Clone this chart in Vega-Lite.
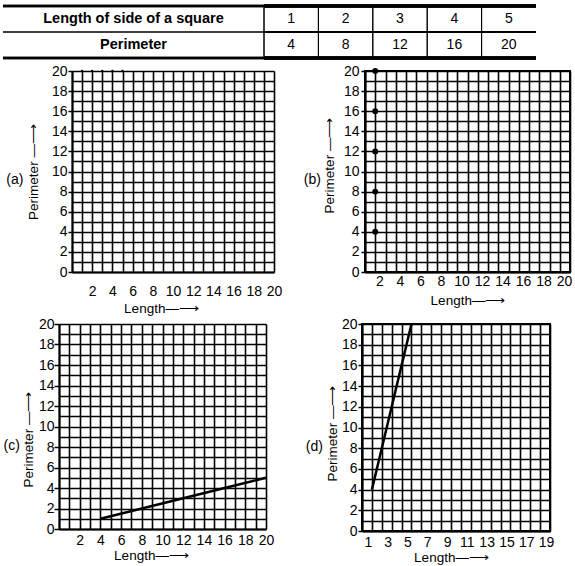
{
  "$schema": "https://vega.github.io/schema/vega-lite/v6.json",
  "padding": {"left": 1, "top": 4, "right": 0, "bottom": 0},
  "background": "white",
  "config": {
    "font": "Liberation Sans",
    "view": {"stroke": "black", "strokeWidth": 2},
    "axis": {
      "labelFont": "Liberation Sans", "labelFontSize": 14, "labelColor": "black",
      "titleFont": "Liberation Sans", "titleFontSize": 13.5, "titleFontWeight": "normal", "titleColor": "black",
      "gridColor": "black", "gridOpacity": 1, "gridWidth": 1.6,
      "domainColor": "black", "domainWidth": 2, "tickColor": "black", "tickWidth": 1.5,
      "labelFlush": false, "labelOverlap": false
    },
    "title": {"font": "Liberation Sans", "fontSize": 14, "fontWeight": "normal", "color": "black", "orient": "left", "angle": 0, "align": "right", "baseline": "middle", "anchor": "middle"}
  },
  "datasets": {
    "squares": [
      {"side": 1, "perimeter": 4}, {"side": 2, "perimeter": 8}, {"side": 3, "perimeter": 12},
      {"side": 4, "perimeter": 16}, {"side": 5, "perimeter": 20}
    ],
    "rowlabels": [
      {"row": "side", "label": "Length of side of a square"},
      {"row": "perimeter", "label": "Perimeter"}
    ],
    "graph_a": [
      {"Length": 1, "Perimeter": 20}, {"Length": 2, "Perimeter": 20}, {"Length": 3, "Perimeter": 20},
      {"Length": 4, "Perimeter": 20}, {"Length": 5, "Perimeter": 20}
    ],
    "graph_b": [
      {"Length": 1, "Perimeter": 4}, {"Length": 1, "Perimeter": 8}, {"Length": 1, "Perimeter": 12},
      {"Length": 1, "Perimeter": 16}, {"Length": 1, "Perimeter": 20}
    ],
    "graph_c": [
      {"Length": 4, "Perimeter": 1}, {"Length": 8, "Perimeter": 2}, {"Length": 12, "Perimeter": 3},
      {"Length": 16, "Perimeter": 4}, {"Length": 20, "Perimeter": 5}
    ],
    "graph_d": [
      {"Length": 1, "Perimeter": 4}, {"Length": 2, "Perimeter": 8}, {"Length": 3, "Perimeter": 12},
      {"Length": 4, "Perimeter": 16}, {"Length": 5, "Perimeter": 20}
    ]
  },
  "columns": 1,
  "spacing": 3,
  "concat": [
    {
      "bounds": "flush",
      "spacing": 0,
      "hconcat": [
        {
          "width": 261, "height": 52,
          "view": {"stroke": null},
          "data": {"name": "rowlabels"},
          "layer": [
            {
              "mark": {"type": "text", "fontWeight": "bold", "fontSize": 14.5, "font": "Liberation Sans", "color": "black"},
              "encoding": {
                "y": {"field": "row", "type": "nominal", "scale": {"type": "band", "domain": ["side", "perimeter"], "paddingInner": 0, "paddingOuter": 0}, "axis": null},
                "text": {"field": "label"}
              }
            },
            {
              "mark": {"type": "rule", "color": "black", "strokeWidth": 2.5},
              "encoding": {"y": {"datum": "side", "type": "nominal", "bandPosition": 0}}
            },
            {
              "mark": {"type": "rule", "color": "black", "strokeWidth": 1},
              "encoding": {"y": {"datum": "perimeter", "type": "nominal", "bandPosition": 0}}
            },
            {
              "mark": {"type": "rule", "color": "black", "strokeWidth": 2.5},
              "encoding": {"y": {"datum": "perimeter", "type": "nominal", "bandPosition": 1}}
            }
          ]
        },
        {
          "width": 272, "height": 52,
          "view": {"stroke": null},
          "data": {"name": "squares"},
          "transform": [{"fold": ["side", "perimeter"], "as": ["row", "val"]}],
          "layer": [
            {
              "mark": {"type": "text", "fontSize": 14, "font": "Liberation Sans", "color": "black"},
              "encoding": {
                "x": {"field": "side", "type": "ordinal", "scale": {"type": "band", "paddingInner": 0, "paddingOuter": 0}, "axis": null},
                "y": {"field": "row", "type": "nominal", "scale": {"type": "band", "domain": ["side", "perimeter"], "paddingInner": 0, "paddingOuter": 0}, "axis": null},
                "text": {"field": "val", "type": "quantitative"}
              }
            },
            {
              "mark": {"type": "rule", "color": "black", "strokeWidth": 1},
              "encoding": {"x": {"field": "side", "type": "ordinal", "bandPosition": 0}}
            },
            {
              "mark": {"type": "rule", "color": "black", "strokeWidth": 2.5},
              "encoding": {"y": {"datum": "side", "type": "nominal", "bandPosition": 0}}
            },
            {
              "mark": {"type": "rule", "color": "black", "strokeWidth": 1},
              "encoding": {"y": {"datum": "perimeter", "type": "nominal", "bandPosition": 0}}
            },
            {
              "mark": {"type": "rule", "color": "black", "strokeWidth": 2.5},
              "encoding": {"y": {"datum": "perimeter", "type": "nominal", "bandPosition": 1}}
            }
          ]
        }
      ]
    },
    {
      "columns": 1,
      "spacing": 1,
      "concat": [
        {
          "bounds": "flush",
          "spacing": 91,
          "hconcat": [
            {
              "width": 271, "height": 201,
              "view": {"stroke": null},
              "title": {"text": "(a)", "offset": -29, "dy": 1},
              "data": {"name": "graph_a"},
              "mark": {"type": "point", "filled": true, "color": "black", "size": 6, "opacity": 1},
              "encoding": {
                "x": {"field": "Length", "type": "quantitative", "scale": {"domain": [0, 20], "range": [69, 271], "nice": false, "zero": false},
                  "axis": {"title": "Length—⟶", "values": [0,1,2,3,4,5,6,7,8,9,10,11,12,13,14,15,16,17,18,19,20],
                    "labelExpr": "datum.value % 2 === 0 && datum.value > 0 ? datum.label : ''",
                    "ticks": false, "tickSize": 0, "labelPadding": 12, "titlePadding": 3, "titleX": 158, "grid": true}},
                "y": {"field": "Perimeter", "type": "quantitative", "scale": {"domain": [0, 20], "nice": false, "zero": false},
                  "axis": {"title": "Perimeter —⟶", "offset": -69, "values": [0,1,2,3,4,5,6,7,8,9,10,11,12,13,14,15,16,17,18,19,20],
                    "labelExpr": "datum.value % 2 === 0 ? datum.label : ''",
                    "tickSize": 4, "tickColor": {"condition": {"test": "datum.value % 2 === 0", "value": "black"}, "value": "transparent"},
                    "labelPadding": 1, "titlePadding": 11, "grid": true}}
              }
            },
            {
              "width": 205, "height": 201,
              "title": {"text": "(b)", "offset": -7, "dy": 1},
              "data": {"name": "graph_b"},
              "mark": {"type": "point", "filled": true, "color": "black", "size": 35, "opacity": 1},
              "encoding": {
                "x": {"field": "Length", "type": "quantitative", "scale": {"domain": [0, 20], "nice": false, "zero": false},
                  "axis": {"title": "Length—⟶", "values": [0,1,2,3,4,5,6,7,8,9,10,11,12,13,14,15,16,17,18,19,20],
                    "labelExpr": "datum.value % 2 === 0 && datum.value > 0 ? datum.label : ''",
                    "ticks": false, "tickSize": 0, "labelPadding": 2, "labelOffset": -6, "titlePadding": 5, "grid": true}},
                "y": {"field": "Perimeter", "type": "quantitative", "scale": {"domain": [0, 20], "nice": false, "zero": false},
                  "axis": {"title": "Perimeter —⟶", "titleY": 94, "values": [0,1,2,3,4,5,6,7,8,9,10,11,12,13,14,15,16,17,18,19,20],
                    "labelExpr": "datum.value % 2 === 0 ? datum.label : ''",
                    "tickSize": 4, "tickColor": {"condition": {"test": "datum.value % 2 === 0", "value": "black"}, "value": "transparent"},
                    "labelPadding": 2, "titlePadding": 7, "grid": true}}
              }
            }
          ]
        },
        {
          "bounds": "flush",
          "spacing": 96,
          "hconcat": [
            {
              "width": 263, "height": 205,
              "view": {"stroke": null},
              "title": {"text": "(c)", "offset": -25, "dy": 12},
              "data": {"name": "graph_c"},
              "mark": {"type": "line", "color": "black", "strokeWidth": 2.5},
              "encoding": {
                "x": {"field": "Length", "type": "quantitative", "scale": {"domain": [0, 20], "range": [56, 263], "nice": false, "zero": false},
                  "axis": {"title": "Length—⟶", "values": [0,1,2,3,4,5,6,7,8,9,10,11,12,13,14,15,16,17,18,19,20],
                    "labelExpr": "datum.value % 2 === 0 && datum.value > 0 ? datum.label : ''",
                    "ticks": false, "tickSize": 0, "labelPadding": 4, "titlePadding": 1, "titleX": 148, "grid": true}},
                "y": {"field": "Perimeter", "type": "quantitative", "scale": {"domain": [0, 20], "nice": false, "zero": false},
                  "axis": {"title": "Perimeter —⟶", "offset": -56, "titleY": 115, "values": [0,1,2,3,4,5,6,7,8,9,10,11,12,13,14,15,16,17,18,19,20],
                    "labelExpr": "datum.value % 2 === 0 ? datum.label : ''",
                    "tickSize": 5, "tickColor": {"condition": {"test": "datum.value % 2 === 0", "value": "black"}, "value": "transparent"},
                    "labelPadding": 0, "titlePadding": 3, "grid": true}}
              }
            },
            {
              "width": 188, "height": 207,
              "title": {"text": "(d)", "offset": -6, "dy": 12},
              "data": {"name": "graph_d"},
              "mark": {"type": "line", "color": "black", "strokeWidth": 2.5},
              "encoding": {
                "x": {"field": "Length", "type": "quantitative", "scale": {"domain": [0, 19], "nice": false, "zero": false},
                  "axis": {"title": "Length—⟶", "values": [0,1,2,3,4,5,6,7,8,9,10,11,12,13,14,15,16,17,18,19],
                    "labelExpr": "datum.value % 2 === 1 ? datum.label : ''",
                    "ticks": false, "tickSize": 0, "labelPadding": 4, "labelOffset": -4, "titlePadding": 1, "titleX": 89, "grid": true}},
                "y": {"field": "Perimeter", "type": "quantitative", "scale": {"domain": [0, 20], "nice": false, "zero": false},
                  "axis": {"title": "Perimeter —⟶", "titleY": 109, "values": [0,1,2,3,4,5,6,7,8,9,10,11,12,13,14,15,16,17,18,19,20],
                    "labelExpr": "datum.value % 2 === 0 ? datum.label : ''",
                    "tickSize": 4, "tickColor": {"condition": {"test": "datum.value % 2 === 0", "value": "black"}, "value": "transparent"},
                    "labelPadding": 1, "titlePadding": 2, "grid": true}}
              }
            }
          ]
        }
      ]
    }
  ]
}
